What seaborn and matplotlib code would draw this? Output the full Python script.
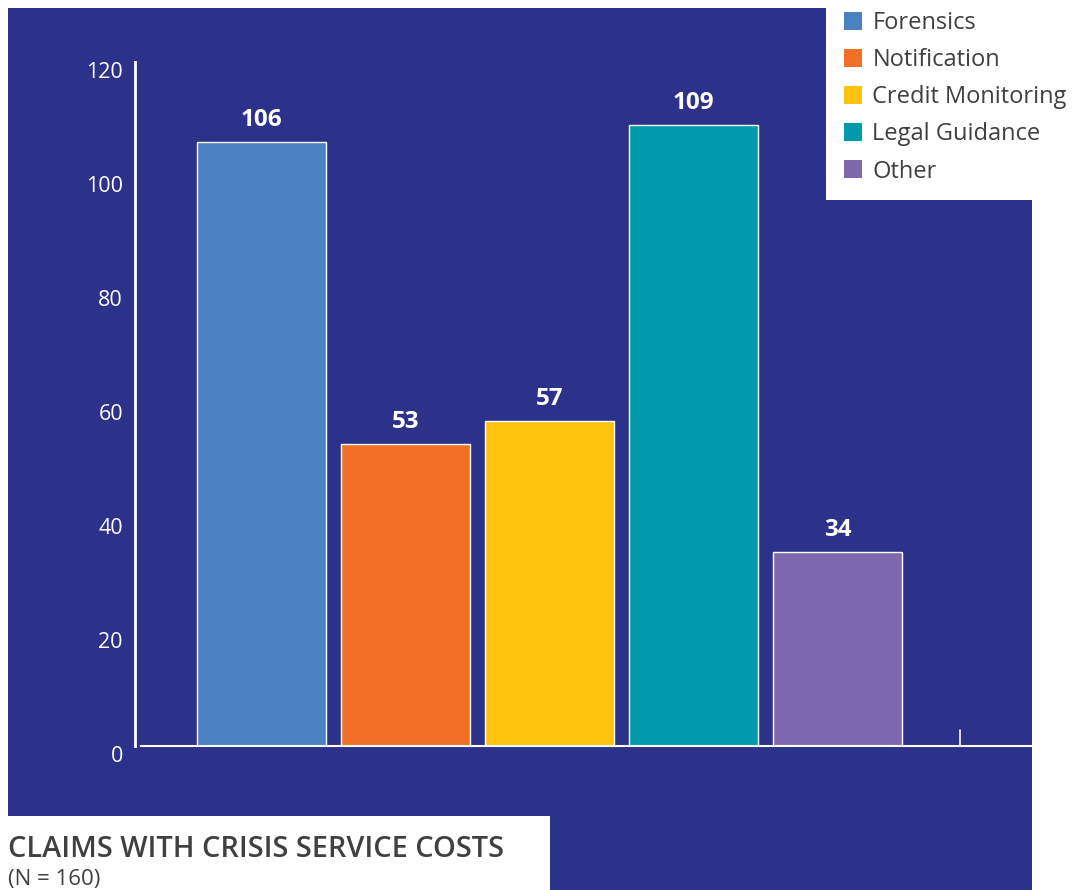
import matplotlib
matplotlib.use("Agg")
import matplotlib.pyplot as plt
import matplotlib.patches as mpatches
import seaborn as sns
import pandas as pd

# Data
categories = ["Forensics", "Notification", "Credit Monitoring", "Legal Guidance", "Other"]
claims = [106, 53, 57, 109, 34]
colors = ["#4A81C2", "#F07125", "#FEC30F", "#009BAB", "#7E69AE"]
yticks = [0, 20, 40, 60, 80, 100, 120]
title = "CLAIMS WITH CRISIS SERVICE COSTS"
subtitle = "(N = 160)"

NAVY = "#2C3189"
TEXT = "#404040"

sns.set_style("white")
plt.rcParams["font.family"] = ["Open Sans", "DejaVu Sans"]

W, H = 1076, 890
fig = plt.figure(figsize=(W / 100, H / 100), dpi=100, facecolor="white")


def px_rect(x0, y0, x1, y1, color, z):
    """Background block given in pixel coordinates measured from the top-left."""
    fig.patches.append(mpatches.Rectangle(
        (x0 / W, 1 - y1 / H), (x1 - x0) / W, (y1 - y0) / H,
        transform=fig.transFigure, facecolor=color, edgecolor="none", zorder=z))


# Navy panel with its lower tab, and the white legend card on top
px_rect(8, 8, 1032, 816, NAVY, -3)
px_rect(550, 816, 1032, 890, NAVY, -3)
px_rect(826, 0, 1076, 200, "white", -2)

ax = fig.add_axes([141 / W, 1 - 746 / H, 891 / W, 684 / H])
ax.set_facecolor("none")

df = pd.DataFrame({"category": categories, "claims": claims})
sns.barplot(data=df, x="category", y="claims", hue="category", palette=colors,
            saturation=1, width=0.9, edgecolor="white", linewidth=1,
            legend=False, ax=ax)

for side in ("top", "right"):
    ax.spines[side].set_visible(False)
ax.spines["left"].set_color("white")
ax.spines["left"].set_linewidth(2)
ax.spines["left"].set_position(("outward", 4))
ax.spines["bottom"].set_color("white")
ax.spines["bottom"].set_linewidth(1.5)

ax.set_xlim(-0.837, 5.351)
ax.set_ylim(0, 120)
ax.set_xticks([])
ax.set_xlabel("")
ax.set_ylabel("")
ax.set_yticks(yticks)
ax.tick_params(axis="y", length=0, pad=9, labelcolor="white", labelsize=15.5)
# Tick labels hang just below their value
for tick in ax.yaxis.get_major_ticks():
    tick.label1.set_verticalalignment("top")

# Small end marker on the baseline
ax.plot([4.85, 4.85], [0, 2.8], color="white", lw=1.2, clip_on=False)

for cont in ax.containers:
    ax.bar_label(cont, padding=7, color="white", fontsize=17.5, fontweight="bold")

handles = [mpatches.Patch(facecolor=c, edgecolor="none", label=l)
           for c, l in zip(colors, categories)]
fig.legend(handles=handles, loc="upper left", bbox_to_anchor=(844 / W, 1 - 11 / H),
           frameon=False, fontsize=17, handlelength=0.78, handleheight=0.78,
           handletextpad=0.42, labelspacing=0.556, borderaxespad=0, borderpad=0,
           labelcolor=TEXT)

fig.text(8 / W, 1 - 857 / H, title, fontsize=20.8, fontweight="semibold",
         color=TEXT, va="baseline", ha="left")
fig.text(8 / W, 1 - 885 / H, subtitle, fontsize=16, color=TEXT,
         va="baseline", ha="left")

fig.savefig("out.png", dpi=100, facecolor="white")
